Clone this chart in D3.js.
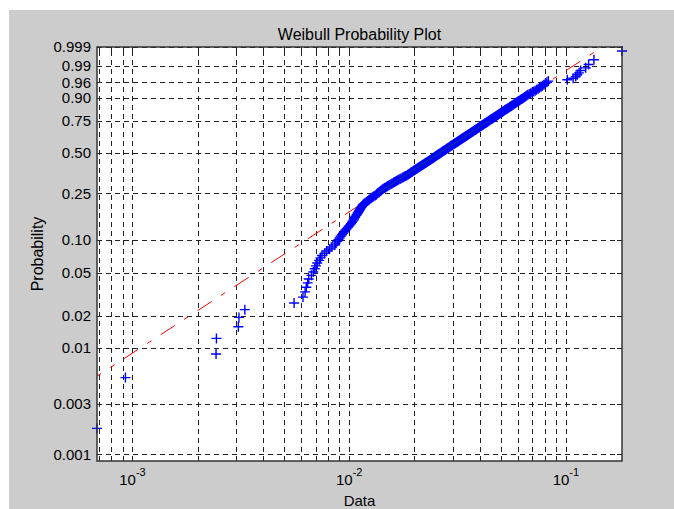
<!DOCTYPE html>
<html>
<head>
<meta charset="utf-8">
<script src="https://cdnjs.cloudflare.com/ajax/libs/d3/7.8.5/d3.min.js"></script>
<style>
    body { margin: 0; background: #fff; }
    text { font-family: "Liberation Sans", Arial, sans-serif; fill: #000; }
</style>
</head>
<body>
<svg id="paper" width="674" height="509"></svg>
<script>
// sorted sample (rank gives the plotting position)
var sample = [
    0.000686, 0.000928, 0.00243, 0.00244, 0.00308, 0.00310, 0.00330, 0.00557,
    0.00612, 0.00626, 0.00634, 0.00643, 0.00651, 0.00669, 0.00683, 0.00694, 0.00703, 0.00712, 0.00727, 0.00737,
    0.00749, 0.00770, 0.00787, 0.00812, 0.00833, 0.00859, 0.00866, 0.00881, 0.00892, 0.00903, 0.00913, 0.00927,
    0.00936, 0.00951, 0.00960, 0.00972, 0.00986, 0.00997, 0.01012, 0.01019, 0.01030, 0.01037, 0.01047, 0.01052,
    0.01062, 0.01068, 0.01079, 0.01085,
    0.01094, 0.01100, 0.01109, 0.01115, 0.01123, 0.01129, 0.01139, 0.01145, 0.01154, 0.01160,
    0.01173, 0.01185, 0.01200, 0.01214, 0.01229, 0.01240, 0.01257, 0.01269, 0.01286, 0.01300, 0.01319, 0.01333,
    0.01345, 0.01356, 0.01371, 0.01381, 0.01396, 0.01406, 0.01421,
    0.01436, 0.01455, 0.01470, 0.01490, 0.01505, 0.01525, 0.01541, 0.01562, 0.01578, 0.01599,
    0.01616, 0.01637, 0.01654, 0.01676, 0.01694, 0.01716, 0.01734, 0.01757, 0.01776, 0.01799,
    0.01818, 0.01842, 0.01863,
    0.01880, 0.01895, 0.01914, 0.01928, 0.01947, 0.01962, 0.01982, 0.01997, 0.02017, 0.02032,
    0.02052, 0.02068, 0.02088, 0.02105, 0.02124,
    0.02143, 0.02158, 0.02178, 0.02194, 0.02214, 0.02231, 0.02251, 0.02268, 0.02288, 0.02305,
    0.02326, 0.02344, 0.02365, 0.02383, 0.02403,
    0.02422, 0.02438, 0.02458, 0.02475, 0.02495, 0.02512, 0.02533, 0.02550, 0.02571, 0.02588,
    0.02610, 0.02627, 0.02649, 0.02667, 0.02689, 0.02707, 0.02729, 0.02748, 0.02770, 0.02790,
    0.02811, 0.02829, 0.02852, 0.02870, 0.02893, 0.02912, 0.02935, 0.02954, 0.02977, 0.02997,
    0.03020, 0.03040, 0.03064, 0.03084, 0.03108, 0.03129, 0.03153, 0.03174, 0.03199, 0.03221,
    0.03245, 0.03266, 0.03291, 0.03312, 0.03338, 0.03360, 0.03386, 0.03408, 0.03434, 0.03456,
    0.03483, 0.03505, 0.03532, 0.03555, 0.03583, 0.03606, 0.03634, 0.03657, 0.03685, 0.03710,
    0.03738, 0.03762, 0.03791, 0.03816, 0.03844,
    0.03872, 0.03898, 0.03928, 0.03954, 0.03984, 0.04011, 0.04041, 0.04068, 0.04099, 0.04127, 0.04157,
    0.04189, 0.04219, 0.04253, 0.04283, 0.04317, 0.04348, 0.04382, 0.04413, 0.04449, 0.04480,
    0.04516, 0.04548, 0.04584, 0.04618,
    0.04656, 0.04691, 0.04730, 0.04766, 0.04806, 0.04842, 0.04883, 0.04920, 0.04961, 0.04998,
    0.05040, 0.05078, 0.05121, 0.05160,
    0.05208, 0.05254, 0.05305, 0.05352, 0.05403, 0.05451, 0.05503, 0.05551, 0.05604, 0.05654,
    0.05708, 0.05758, 0.05813, 0.05865, 0.05921, 0.05974,
    0.06041, 0.06107, 0.06177, 0.06243, 0.06315, 0.06383, 0.06456, 0.06526, 0.06601, 0.06673,
    0.06779, 0.06883, 0.06993, 0.07101, 0.07215, 0.07326, 0.07443, 0.07558, 0.07679, 0.07797,
    0.07922, 0.08044, 0.08173, 0.08300,
    0.1015, 0.1080, 0.1110, 0.1129, 0.1150, 0.1169, 0.1234, 0.1273, 0.1347, 0.1815
];

var probTicks = [0.001, 0.003, 0.01, 0.02, 0.05, 0.10, 0.25, 0.50, 0.75, 0.90, 0.96, 0.99, 0.999];
var probLabels = ["0.001", "0.003", "0.01", "0.02", "0.05", "0.10", "0.25", "0.50", "0.75", "0.90", "0.96", "0.99", "0.999"];
var probLimits = [0.000867, 0.999];
var decadeTicks = [1e-3, 1e-2, 1e-1];
var decadeLabels = ["-3", "-2", "-1"];

var chartTitle = "Weibull Probability Plot";
var xTitle = "Data";
var yTitle = "Probability";

// layout (window.top is read only, so no bare "top")
var box = { left: 97, right: 622, top: 47, bottom: 461 };

function weib(p) {
    return Math.log(-Math.log(1 - p));
}

var svg = d3.select("#paper");

svg.append("rect")
    .attr("x", 9).attr("y", 10)
    .attr("width", 665).attr("height", 499)
    .attr("fill", "#cccccc");

svg.append("rect")
    .attr("x", box.left).attr("y", box.top)
    .attr("width", box.right - box.left).attr("height", box.bottom - box.top)
    .attr("fill", "#fff");

var x = d3.scaleLog().domain(d3.extent(sample)).range([box.left, box.right]);
var y = d3.scaleLinear().domain([weib(probLimits[0]), weib(probLimits[1])]).range([box.bottom, box.top]);

var n = sample.length;
var points = sample.map(function (v, i) {
    return { x: v, z: weib((i + 0.5) / n) };
});

svg.append("clipPath").attr("id", "clipbox")
    .append("rect")
    .attr("x", box.left).attr("y", box.top)
    .attr("width", box.right - box.left).attr("height", box.bottom - box.top);

// grid
var gridX = svg.append("g")
    .attr("transform", "translate(0," + box.bottom + ")")
    .call(d3.axisBottom(x).tickValues(x.ticks()).tickSize(-(box.bottom - box.top)).tickFormat(""));
var gridY = svg.append("g")
    .attr("transform", "translate(" + box.left + ",0)")
    .call(d3.axisLeft(y).tickValues(probTicks.map(weib)).tickSize(-(box.right - box.left)).tickFormat(""));
[gridX, gridY].forEach(function (g) {
    g.select(".domain").remove();
    g.selectAll("line")
        .attr("stroke", "#222")
        .attr("stroke-dasharray", "5,4")
        .attr("shape-rendering", "crispEdges");
});

// inward ticks on all four sides
var tickLen = 5;
var axes = [
    svg.append("g").attr("transform", "translate(0," + box.bottom + ")")
        .call(d3.axisBottom(x).tickValues(x.ticks()).tickSize(-tickLen).tickFormat("")),
    svg.append("g").attr("transform", "translate(0," + box.top + ")")
        .call(d3.axisTop(x).tickValues(x.ticks()).tickSize(-tickLen).tickFormat("")),
    svg.append("g").attr("transform", "translate(" + box.right + ",0)")
        .call(d3.axisRight(y).tickValues(probTicks.map(weib)).tickSize(-tickLen).tickFormat("")),
    svg.append("g").attr("transform", "translate(" + box.left + ",0)")
        .call(d3.axisLeft(y).tickValues(probTicks.map(weib)).tickSize(-tickLen).tickPadding(6)
            .tickFormat(function (d, i) { return probLabels[i]; }))
];
axes.forEach(function (g) {
    g.select(".domain").remove();
    g.selectAll("line").attr("stroke", "#222").attr("shape-rendering", "crispEdges");
    g.selectAll("text").attr("font-size", 15).attr("fill", "#000")
        .attr("font-family", "Liberation Sans, Arial, sans-serif");
});

// decade labels 10^k
var xl = svg.append("g").selectAll("text").data(decadeTicks).enter().append("text")
    .attr("x", function (d) { return x(d); })
    .attr("y", 485)
    .attr("text-anchor", "middle")
    .attr("font-size", 15);
xl.append("tspan").text("10");
xl.append("tspan").attr("dy", -9).attr("font-size", 11)
    .text(function (d, i) { return decadeLabels[i]; });

// fitted line through the quartiles (MATLAB style)
var lx = points.map(function (d) { return Math.log10(d.x); });
var lz = points.map(function (d) { return d.z; });
var q1x = d3.quantile(lx, 0.25), q3x = d3.quantile(lx, 0.75);
var q1z = d3.quantile(lz, 0.25), q3z = d3.quantile(lz, 0.75);
var slope = (q3z - q1z) / (q3x - q1x);
var cx = (q1x + q3x) / 2, cz = (q1z + q3z) / 2;
var lo = d3.min(lx), hi = d3.max(lx);

var fit = svg.append("g").attr("clip-path", "url(#clipbox)");

fit.append("line")
    .attr("x1", x(Math.pow(10, lo))).attr("y1", y(cz - slope * (cx - lo)))
    .attr("x2", x(Math.pow(10, hi))).attr("y2", y(cz + slope * (hi - cx)))
    .attr("stroke", "#ff0000")
    .attr("stroke-width", 1)
    .attr("stroke-dasharray", "17,11,5,11")
    .attr("stroke-dashoffset", 12);

// markers are not clipped, like the original
var arm = 5;
svg.append("g").selectAll("path").data(points).enter().append("path")
    .attr("d", function (d) {
        var px = x(d.x), py = y(d.z);
        return "M" + (px - arm) + "," + py + "H" + (px + arm) + "M" + px + "," + (py - arm) + "V" + (py + arm);
    })
    .attr("stroke", "#0000ff")
    .attr("stroke-width", 1.4)
    .attr("fill", "none");

svg.append("line")
    .attr("x1", x(Math.pow(10, q1x))).attr("y1", y(q1z))
    .attr("x2", x(Math.pow(10, q3x))).attr("y2", y(q3z))
    .attr("stroke", "#008000")
    .attr("stroke-width", 0.8)
    .attr("opacity", 0.7);

// frame
svg.append("rect")
    .attr("x", box.left).attr("y", box.top)
    .attr("width", box.right - box.left).attr("height", box.bottom - box.top)
    .attr("fill", "none")
    .attr("stroke", "#333")
    .attr("stroke-width", 1.5);

svg.append("text")
    .attr("x", (box.left + box.right) / 2).attr("y", 40)
    .attr("text-anchor", "middle")
    .attr("font-size", 16)
    .text(chartTitle);

svg.append("text")
    .attr("x", (box.left + box.right) / 2).attr("y", 506)
    .attr("text-anchor", "middle")
    .attr("font-size", 15)
    .text(xTitle);

svg.append("text")
    .attr("transform", "translate(43," + ((box.top + box.bottom) / 2) + ") rotate(-90)")
    .attr("text-anchor", "middle")
    .attr("font-size", 16)
    .text(yTitle);
</script>
</body>
</html>
